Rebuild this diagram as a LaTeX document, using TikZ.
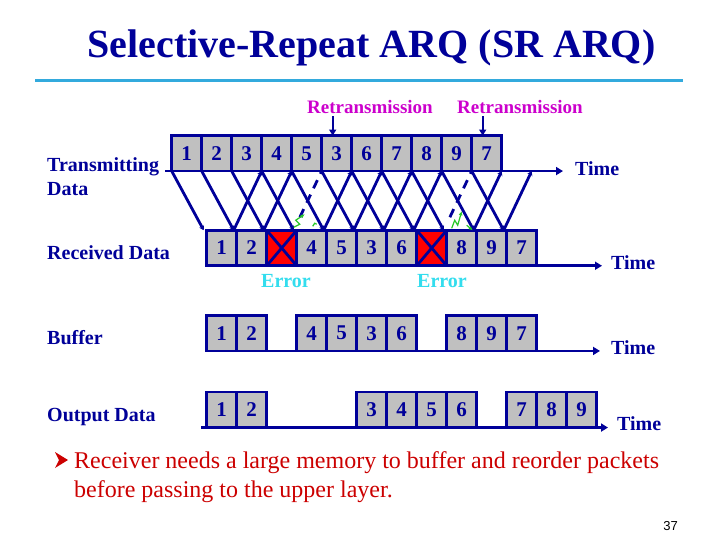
\documentclass[tikz,border=0pt]{standalone}
\usepackage{fontspec}
\setmainfont{Liberation Serif}
\newfontfamily\pagesans{Liberation Sans}
\usetikzlibrary{arrows.meta,calc}
\definecolor{dnavy}{RGB}{0,0,153}
\definecolor{boxgray}{RGB}{192,192,192}
\definecolor{rulecol}{RGB}{51,170,221}
\definecolor{rtxcol}{RGB}{204,0,204}
\definecolor{errcol}{RGB}{51,221,238}
\definecolor{notecol}{RGB}{204,0,0}
\definecolor{zapcol}{RGB}{40,200,40}
\definecolor{xred}{RGB}{255,0,0}
\tikzset{
  pkt/.style={draw=dnavy, fill=boxgray, line width=2.8pt, minimum width=30pt,
    minimum height=35.5pt, inner sep=0pt, outer sep=0pt,
    font=\fontsize{21}{21}\selectfont\bfseries, text=dnavy},
  lbl/.style={font=\fontsize{20}{24}\selectfont\bfseries, text=dnavy, inner sep=0pt},
  rtx/.style={font=\fontsize{19}{22}\selectfont\bfseries, text=rtxcol, inner sep=0pt},
  errl/.style={font=\fontsize{20}{22}\selectfont\bfseries, text=errcol, inner sep=0pt},
  wire/.style={draw=dnavy, line width=2.8pt},
  arr/.style={wire, -{Stealth[length=4.5pt,width=5.5pt]}},
  tarr/.style={wire, -{Triangle[length=7pt,width=8pt]}},
  zap/.style={draw=zapcol, line width=1.2pt},
  note/.style={font=\fontsize{24}{29}\selectfont, text=notecol, inner sep=0pt}
}
\begin{document}
\begin{tikzpicture}[x=1pt,y=-1pt]
\useasboundingbox (0,0) rectangle (720,540);
\fill[white] (0,0) rectangle (720,540);
% title
\node[font=\fontsize{40}{48}\selectfont\bfseries, text=dnavy, anchor=base, inner sep=0pt]
  (title) at (371.5,57.5) {Selective-Repeat ARQ (SR ARQ)};
\draw[line width=3pt, rulecol] (35,81) -- (683,81);
% left labels
\node[lbl, anchor=base west] (trans1) at (47,172) {Transmitting};
\node[lbl, anchor=base west] (trans2) at (47,196) {Data};
\node[lbl, anchor=base west] (recv) at (47,259) {Received Data};
\node[lbl, anchor=base west] (buf) at (47,344) {Buffer};
\node[lbl, anchor=base west] (outd) at (47,421) {Output Data};
% transmitted packets
\foreach \n [count=\i from 0] in {1,2,3,4,5,3,6,7,8,9,7}
  \node[pkt] (t\i) at ({186.7+30*\i},153.3) {\n};
% received packets
\foreach \i/\n in {0/1,1/2,3/4,4/5,5/3,6/6,8/8,9/9,10/7}
  \node[pkt] (r\i) at ({221.7+30*\i},248) {\n};
\foreach \i in {2,7}{
  \node[pkt, fill=xred] (r\i) at ({221.7+30*\i},248) {};
  \draw[wire] (r\i.north west) -- (r\i.south east) (r\i.north east) -- (r\i.south west);
}
% buffer
\foreach \i/\n in {0/1,1/2,3/4,4/5,5/3,6/6,8/8,9/9,10/7}
  \node[pkt] (b\i) at ({221.7+30*\i},333.2) {\n};
% output
\foreach \i/\n in {0/1,1/2,5/3,6/4,7/5,8/6,10/7,11/8,12/9}
  \node[pkt] (o\i) at ({221.7+30*\i},409.8) {\n};
% retransmission labels
\node[rtx, anchor=base] (rt1) at (370,114) {Retransmission};
\node[rtx, anchor=base] (rt2) at (520,114) {Retransmission};
\coordinate (ra1) at ($(t5.north)+(-4,0)$);
\coordinate (ra2) at ($(t10.north)+(-4,0)$);
\draw[wire, line width=2.4pt, -{Triangle[length=6pt,width=7pt]}] (ra1 |- rt1.south) ++(0,2) -- (ra1);
\draw[wire, line width=2.4pt, -{Triangle[length=6pt,width=7pt]}] (ra2 |- rt2.south) ++(0,2) -- (ra2);
% time labels
\node[lbl, anchor=base west] (time1) at (575,176) {Time};
\node[lbl, anchor=base west] (time2) at (611,269) {Time};
\node[lbl, anchor=base west] (time3) at (611,354) {Time};
\node[lbl, anchor=base west] (time4) at (617,430) {Time};
\coordinate (s1) at (165,0);
\coordinate (s4) at (201,0);
\coordinate (e1) at (563,0);
\coordinate (e2) at (602,0);
\coordinate (e3) at (600,0);
\coordinate (e4) at (608,0);
% time lines
\draw[wire] (t0.south west -| s1) -- (t0.south west);
\draw[tarr] (t10.south east) -- (t10.south east -| e1);
\draw[tarr] (r10.south east) -- (r10.south east -| e2);
\draw[wire] (b1.south east) -- (b3.south west);
\draw[wire] (b6.south east) -- (b8.south west);
\draw[tarr] (b10.south east) -- (b10.south east -| e3);
\draw[wire] (o0.south west -| s4) -- (o0.south west);
\draw[wire] (o1.south east) -- (o5.south west);
\draw[wire] (o8.south east) -- (o10.south west);
\draw[tarr] (o12.south east) -- (o12.south east -| e4);
% top arrival points
\foreach \k in {0,...,10} \coordinate (u\k) at (t\k.south west);
\coordinate (u11) at (t10.south east);
\coordinate (u12) at ($(t10.south east)+(30,0)$);
% bottom arrival points
\foreach \i in {0,...,10} \coordinate (n\i) at ($(r\i.north west)+(-3,0)$);
% data frames
\foreach \i in {0,...,10} \draw[arr] (u\i) -- (n\i);
% acknowledgements
\foreach \j/\k in {1/3,2/4,4/6,5/7,6/8,7/9,9/11,10/12} \draw[arr] (n\j) -- (u\k);
% corrupted feedback
\draw[wire, dash pattern=on 9pt off 7pt] ($(n3)!0.22!(u5)$) -- (u5);
\draw[wire, dash pattern=on 9pt off 7pt] ($(n8)!0.22!(u10)$) -- (u10);
\draw[zap, -{Latex[length=4pt,width=4pt]}] ($(n3)+(0,-3)$) -- ++(6,-3) -- ++(-4,-4) -- ++(9,-6);
\draw[zap] ($(n3)+(19,-4)$) -- ++(2,-3) -- ++(2,1);
\draw[zap, -{Latex[length=4pt,width=4pt]}] ($(n8)+(8,-2)$) -- ++(3,-8) -- ++(3,5) -- ++(4,-14);
\draw[zap, -{Latex[length=4pt,width=4pt]}] ($(n9)+(-7,-5)$) -- ++(6,5);
% error labels
\node[errl, anchor=base] (err1) at (286,287) {Error};
\node[errl, anchor=base] (err2) at (442,287) {Error};
% note
\fill[notecol] (55,452) -- (68,460) -- (55,468) -- (59,460) -- cycle;
\node[note, anchor=base west] (note1) at (74,468) {Receiver needs a large memory to buffer and reorder packets};
\node[note, anchor=base west] (note2) at (74,497) {before passing to the upper layer.};
\node[font=\pagesans\fontsize{13}{13}\selectfont, anchor=base east, inner sep=0pt] (pnum) at (678,530) {37};
\end{tikzpicture}
\end{document}
